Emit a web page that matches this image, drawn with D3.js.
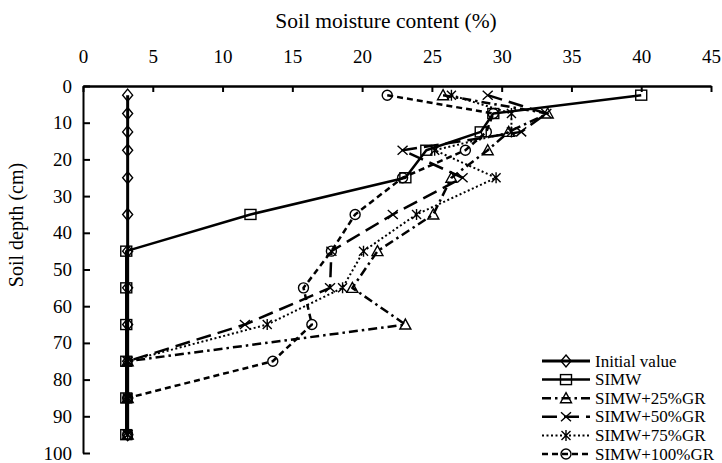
<!DOCTYPE html>
<html><head><meta charset="utf-8">
<script src="https://cdn.jsdelivr.net/npm/d3@7"></script>
<style>
html,body{margin:0;padding:0;background:#fff;}
svg text{font-family:"Liberation Serif","Times New Roman",Tinos,"DejaVu Serif",serif !important;fill:#000;}
</style></head>
<body><svg id="c" width="722" height="463"></svg>
<script>
const depths = [2.5, 7.5, 12.5, 17.5, 25, 35, 45, 55, 65, 75, 85, 95];
const initialValue = [3.2, 3.2, 3.2, 3.2, 3.2, 3.2, 3.2, 3.2, 3.2, 3.2, 3.2, 3.2];
const simw =        [40.0, 29.4, 28.5, 24.6, 23.1, 12.0, 3.1, 3.1, 3.1, 3.1, 3.1, 3.1];
const simw25 =      [25.8, 33.3, 30.5, 29.0, 26.4, 25.1, 21.1, 19.3, 23.1, 3.2, 3.2, 3.2];
const simw50 =      [29.0, 33.2, 31.4, 22.9, 27.2, 22.2, 17.8, 17.7, 11.6, 3.2, 3.2, 3.2];
const simw75 =      [26.4, 30.7, 30.7, 25.2, 29.6, 23.9, 20.1, 18.6, 13.2, 3.2, 3.2, 3.2];
const simw100 =     [21.8, 29.4, 28.9, 27.4, 22.9, 19.5, 17.8, 15.8, 16.4, 13.6, 3.2, 3.2];
const seriesNames = ["Initial value", "SIMW", "SIMW+25%GR", "SIMW+50%GR", "SIMW+75%GR", "SIMW+100%GR"];
const xTicks = [0, 5, 10, 15, 20, 25, 30, 35, 40, 45];
const yTicks = [0, 10, 20, 30, 40, 50, 60, 70, 80, 90, 100];
const xTitle = "Soil moisture content (%)";
const yTitle = "Soil depth (cm)";

const seriesValues = [initialValue, simw, simw25, simw50, simw75, simw100];
const styles = [
  {dash: null, width: 3, marker: "diamond"},
  {dash: null, width: 2.5, marker: "square"},
  {dash: "9,4,2.5,4", width: 2.5, marker: "triangle"},
  {dash: "15,7", width: 2.5, marker: "x"},
  {dash: "2,2.5", width: 2, marker: "asterisk"},
  {dash: "6,4", width: 2.5, marker: "circle"}
];
const FONT = '"Liberation Serif","Times New Roman",Tinos,"DejaVu Serif",serif';

const svg = d3.select("#c");
const L = 83, R = 711, T = 86, B = 453;
const x = d3.scaleLinear().domain([0, 45]).range([L, R]);
const y = d3.scaleLinear().domain([0, 100]).range([T, B]);

const xAxis = svg.append("g").attr("transform", `translate(0,${T})`)
  .call(d3.axisTop(x).tickValues(xTicks).tickSize(-6).tickSizeOuter(0).tickPadding(23));
const yAxis = svg.append("g").attr("transform", `translate(${L},0)`)
  .call(d3.axisLeft(y).tickValues(yTicks).tickSize(-7).tickSizeOuter(0).tickPadding(11));
[xAxis, yAxis].forEach(g => {
  g.attr("font-family", FONT);
  g.select(".domain").attr("stroke", "#000").attr("stroke-width", 2.5);
  g.selectAll(".tick line").attr("stroke", "#000").attr("stroke-width", 2);
  g.selectAll("text").attr("font-family", FONT).style("font-size", "19px").attr("fill", "#000");
});
yAxis.select(".domain").attr("stroke-width", 2);

svg.append("text").attr("x", 386).attr("y", 28).attr("text-anchor", "middle")
  .attr("font-family", FONT).style("font-size", "21.5px").text(xTitle);
svg.append("text").attr("transform", `translate(23,225) rotate(-90)`)
  .attr("font-family", FONT).attr("text-anchor", "middle").style("font-size", "20px").text(yTitle);

function drawMarker(g, type, cx, cy) {
  const s = g.append("g").attr("transform", `translate(${cx},${cy})`)
    .attr("fill", "none").attr("stroke", "#000").attr("stroke-width", 1.4);
  if (type === "diamond") s.append("path").attr("d", "M0,-6L5,0L0,6L-5,0Z");
  else if (type === "square") s.append("rect").attr("x", -5.5).attr("y", -5).attr("width", 11).attr("height", 10);
  else if (type === "triangle") s.append("path").attr("d", "M0,-5.5L5.5,4.5L-5.5,4.5Z");
  else if (type === "x") s.append("path").attr("d", "M-5,-4.5L5,4.5M-5,4.5L5,-4.5");
  else if (type === "asterisk") s.append("path").attr("d", "M-4.5,-4.5L4.5,4.5M-4.5,4.5L4.5,-4.5M0,-5.5L0,5.5");
  else if (type === "circle") s.append("circle").attr("r", 5);
}

const line = d3.line().x(d => x(d[0])).y(d => y(d[1]));
seriesValues.forEach((vals, i) => {
  const st = styles[i];
  const pts = vals.map((v, j) => [v, depths[j]]);
  const g = svg.append("g");
  g.append("path").attr("d", line(pts)).attr("fill", "none").attr("stroke", "#000")
    .attr("stroke-width", st.width).attr("stroke-dasharray", st.dash)
    .attr("stroke-linejoin", "round");
  pts.forEach(p => drawMarker(g, st.marker, x(p[0]), y(p[1])));
});

const lg = svg.append("g");
seriesNames.forEach((name, i) => {
  const st = styles[i];
  const cy = 361 + i * 18.6;
  lg.append("line").attr("x1", 542).attr("x2", 590).attr("y1", cy).attr("y2", cy)
    .attr("stroke", "#000").attr("stroke-width", st.width).attr("stroke-dasharray", st.dash);
  drawMarker(lg, st.marker, 566, cy);
  lg.append("text").attr("x", 595).attr("y", cy + 5.5).attr("font-family", FONT)
    .style("font-size", "17px").text(name);
});
</script></body></html>
